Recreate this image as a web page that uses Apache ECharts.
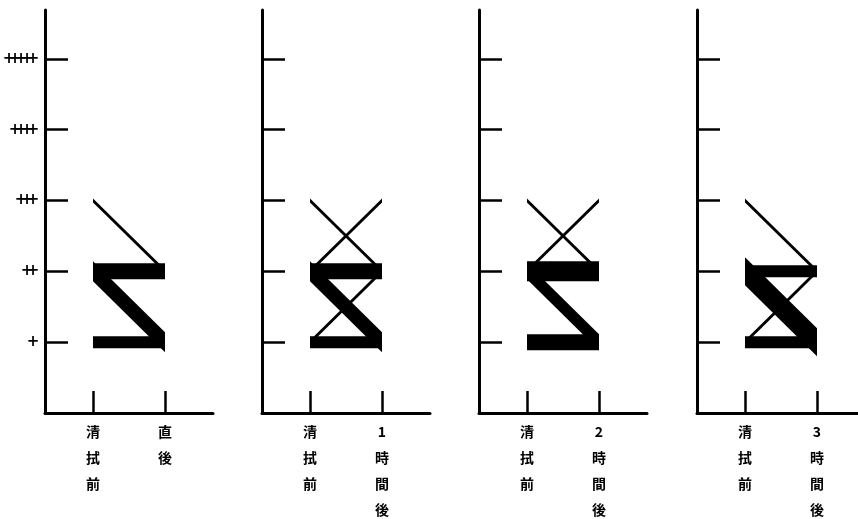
<!DOCTYPE html>
<html>
<head>
<meta charset="utf-8">
<script src="https://cdn.jsdelivr.net/npm/echarts@6/dist/echarts.min.js"></script>
<style>
  html, body { margin: 0; padding: 0; background: #fff; }
  #chart { width: 858px; height: 519px; }
</style>
</head>
<body>
<div id="chart"></div>
<script>
// grades shown on the y axis (1..5)
const levelLabels = ['+', '++', '+++', '++++', '+++++']
const levels = [1, 2, 3, 4, 5]

// x categories: before wiping, and the time after
const beforeLabel = '清拭前'
const afterLabels = ['直後', '1時間後', '2時間後', '3時間後']

// transitions per panel: [grade before, grade after, number of cases]
const panel0 = [[3, 2, 1], [2, 2, 4], [2, 1, 5], [1, 1, 3]]
const panel1 = [[3, 2, 1], [2, 3, 1], [2, 2, 4], [2, 1, 5], [1, 2, 1], [1, 1, 3]]
const panel2 = [[3, 2, 1], [2, 3, 1], [2, 2, 5], [2, 1, 4], [1, 1, 4]]
const panel3 = [[3, 2, 1], [2, 2, 3], [2, 1, 7], [1, 2, 1], [1, 1, 3]]
const panels = [panel0, panel1, panel2, panel3]

const X_BEFORE = 1
const X_AFTER = 2.5
const PX_PER_CASE = 4
const gridLefts = [45, 262, 479, 697]

const vertical = (s) => s.split('').join('\n')
// each "+" in its own narrow box so the bars run together like tally marks
const tally = (s) => s.split('').map((c) => `{p|${c}}`).join('')

const chart = echarts.init(document.getElementById('chart'))

const grid = []
const xAxis = []
const yAxis = []
const series = []

panels.forEach((rows, i) => {
	grid.push({ left: gridLefts[i], top: 10, width: 168, height: 403, outerBoundsMode: 'none' })

	xAxis.push({
		type: 'value',
		gridIndex: i,
		min: 0,
		max: 3.5,
		splitLine: { show: false },
		axisLine: { lineStyle: { color: '#000', width: 3 } },
		axisTick: {
			show: true,
			inside: true,
			length: 22,
			customValues: [X_BEFORE, X_AFTER],
			lineStyle: { color: '#000', width: 2.5 },
		},
		axisLabel: {
			customValues: [X_BEFORE, X_AFTER],
			margin: 6,
			color: '#000',
			fontFamily: 'Noto Sans CJK JP',
			fontWeight: 'bold',
			fontSize: 14,
			lineHeight: 26,
			formatter: (v) => (v === X_BEFORE ? vertical(beforeLabel) : vertical(afterLabels[i])),
		},
	})

	yAxis.push({
		type: 'value',
		gridIndex: i,
		min: 0,
		max: 5.69,
		splitLine: { show: false },
		axisLine: { show: true, lineStyle: { color: '#000', width: 3 } },
		axisTick: {
			show: true,
			inside: true,
			length: 23,
			customValues: levels,
			lineStyle: { color: '#000', width: 2.5 },
		},
		axisLabel: {
			show: i === 0,
			customValues: levels,
			margin: 9,
			color: '#000',
			formatter: (v) => tally(levelLabels[v - 1]),
			rich: {
				p: {
					fontFamily: 'DejaVu Sans',
					fontWeight: 'bold',
					fontSize: 15,
					width: 6,
					align: 'center',
					color: '#000',
				},
			},
		},
	})

	series.push({
		type: 'custom',
		xAxisIndex: i,
		yAxisIndex: i,
		encode: { x: [0, 2], y: [1, 3] },
		data: rows.map(([from, to, n]) => [X_BEFORE, from, X_AFTER, to, n]),
		renderItem: (params, api) => {
			const p1 = api.coord([api.value(0), api.value(1)])
			const p2 = api.coord([api.value(2), api.value(3)])
			const h = api.value(4) * PX_PER_CASE / 2
			return {
				type: 'polygon',
				shape: {
					points: [
						[p1[0], p1[1] - h],
						[p2[0], p2[1] - h],
						[p2[0], p2[1] + h],
						[p1[0], p1[1] + h],
					],
				},
				style: { fill: '#000' },
			}
		},
	})
})

chart.setOption({
	backgroundColor: '#fff',
	animation: false,
	grid,
	xAxis,
	yAxis,
	series,
})
</script>
</body>
</html>
